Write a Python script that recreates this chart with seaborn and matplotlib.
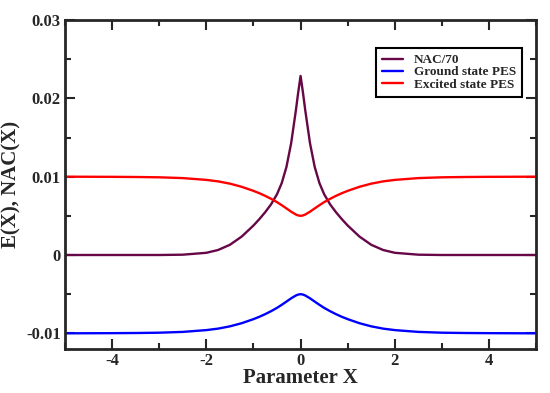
import numpy as np
import pandas as pd
import seaborn as sns
import matplotlib
matplotlib.use('Agg')
import matplotlib.pyplot as plt
from matplotlib.ticker import MultipleLocator


# values
x_vals = [-5, -4, -3.5, -3, -2.5, -2, -1.75, -1.5, -1.25, -1, -0.875, -0.75, -0.625,
          -0.5, -0.4, -0.3, -0.2, -0.1, -0.05, 0,
          0.05, 0.1, 0.2, 0.3, 0.4, 0.5, 0.625, 0.75, 0.875, 1, 1.25, 1.5, 1.75,
          2, 2.5, 3, 3.5, 4, 5]

nac_70 = [0.0, 0.0, 0.0, 0.0, 0.00004, 0.00028, 0.00064, 0.0013, 0.00235, 0.00376, 0.00458,
          0.00547, 0.00648, 0.00776, 0.00918, 0.01124, 0.01427, 0.01845, 0.02077, 0.02286,
          0.02077, 0.01845, 0.01427, 0.01124, 0.00918, 0.00776, 0.00648, 0.00547, 0.00458,
          0.00376, 0.00235, 0.0013, 0.00064, 0.00028, 0.00004, 0.0, 0.0, 0.0, 0.0]

ground = [-0.01, -0.00998, -0.00996, -0.00992, -0.00982, -0.00959, -0.0094, -0.00911, -0.00871,
          -0.00819, -0.00789, -0.00755, -0.00717, -0.00675, -0.00636, -0.00595, -0.00553,
          -0.00517, -0.00505, -0.005,
          -0.00505, -0.00517, -0.00553, -0.00595, -0.00636, -0.00675, -0.00717, -0.00755,
          -0.00789, -0.00819, -0.00871, -0.00911, -0.0094, -0.00959, -0.00982, -0.00992,
          -0.00996, -0.00998, -0.01]

excited = [0.01, 0.00998, 0.00996, 0.00992, 0.00982, 0.00959, 0.0094, 0.00911, 0.00871,
           0.00819, 0.00789, 0.00755, 0.00717, 0.00675, 0.00636, 0.00595, 0.00553,
           0.00517, 0.00505, 0.005,
           0.00505, 0.00517, 0.00553, 0.00595, 0.00636, 0.00675, 0.00717, 0.00755,
           0.00789, 0.00819, 0.00871, 0.00911, 0.0094, 0.00959, 0.00982, 0.00992,
           0.00996, 0.00998, 0.01]

series_names = ['NAC/70', 'Ground state PES', 'Excited state PES']
series_colors = ['#670748', '#0000ff', '#ff0000']


def build_frame():
    frames = []
    for name, vals in zip(series_names, [nac_70, ground, excited]):
        frames.append(pd.DataFrame({'x': x_vals, 'y': vals, 'series': name}))
    return pd.concat(frames, ignore_index=True)


def plot_chart(df):
    sns.set_style('ticks')
    plt.rcParams['font.family'] = ['Liberation Serif', 'DejaVu Serif']
    plt.rcParams['font.weight'] = 'bold'

    fig = plt.figure(figsize=(5.5, 3.93), dpi=100)
    ax = fig.add_axes([0.118, 0.112, 0.857, 0.837])

    sns.lineplot(data=df, x='x', y='y', hue='series', hue_order=series_names,
                 palette=dict(zip(series_names, series_colors)), lw=1.7,
                 sort=False, estimator=None, ax=ax)

    ax.set_xlim(-5, 5)
    ax.set_ylim(-0.012, 0.03)
    ax.xaxis.set_minor_locator(MultipleLocator(1))
    ax.yaxis.set_minor_locator(MultipleLocator(0.005))
    ax.set_yticks([-0.01, 0, 0.01, 0.02, 0.03])
    ax.set_yticklabels(['-0.01', '0', '0.01', '0.02', '0.03'])
    ax.set_xticks([-4, -2, 0, 2, 4])
    ax.set_xticklabels(['-4', '-2', '0', '2', '4'])

    ax.tick_params(which='both', direction='in', top=True, right=True, width=1.5,
                   labelsize=12)
    ax.tick_params(axis='x', pad=3)
    ax.tick_params(axis='y', pad=3)
    ax.tick_params(which='major', length=7)
    ax.tick_params(which='minor', length=4)
    for lab in ax.get_xticklabels() + ax.get_yticklabels():
        lab.set_fontweight('bold')
    for sp in ax.spines.values():
        sp.set_linewidth(2)
        sp.set_visible(True)

    ax.set_xlabel('Parameter X', fontsize=15, fontweight='bold')
    ax.xaxis.set_label_coords(0.5, -0.058)
    ax.set_ylabel('E(X), NAC(X)', fontsize=15, fontweight='bold')
    ax.yaxis.set_label_coords(-0.092, 0.5)

    leg = ax.legend(loc='upper right', bbox_to_anchor=(0.97, 0.915), fancybox=False,
                    framealpha=1, edgecolor='black', handlelength=1.6,
                    prop={'size': 9.5, 'weight': 'bold'}, borderpad=0.45,
                    borderaxespad=0, labelspacing=0.0, handletextpad=0.8)
    leg.get_frame().set_linewidth(1.5)

    plt.savefig('out.png', dpi=100)


if __name__ == "__main__":
    df = build_frame()
    plot_chart(df)
